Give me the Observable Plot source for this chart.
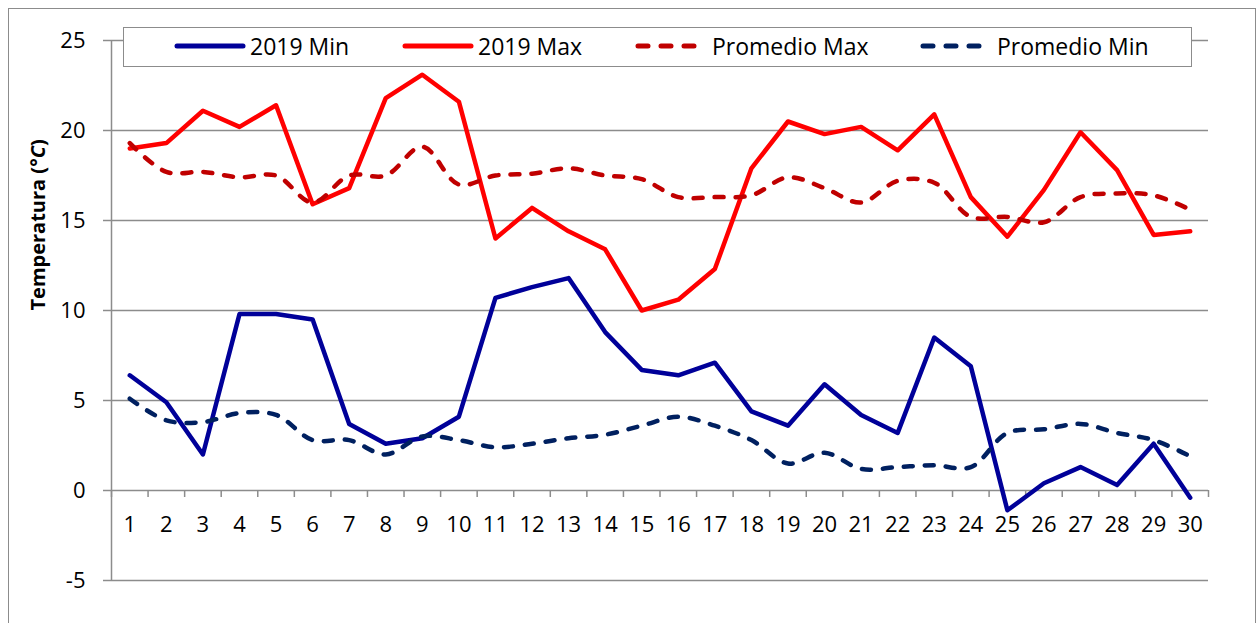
<!DOCTYPE html>
<html>
<head>
<meta charset="utf-8">
<script src="https://cdn.jsdelivr.net/npm/d3@7"></script>
<script src="https://cdn.jsdelivr.net/npm/@observablehq/plot@0.6"></script>
<style>
  html, body { margin: 0; padding: 0; background: #fff; }
  #wrap { position: relative; width: 1258px; height: 623px; overflow: hidden; font-family: "Open Sans", sans-serif; }
  #frame { position: absolute; left: 8px; top: 8px; width: 1248px; height: 700px; border: 1.5px solid #8c8c8c; box-sizing: border-box; }
  #chart { position: absolute; left: 0; top: 0; }
  #legend { position: absolute; left: 123px; top: 27px; width: 1069px; height: 40px; border: 1.5px solid #8c8c8c; box-sizing: border-box; background: #fff; }
  .item { position: absolute; top: -1px; height: 37px; display: flex; align-items: center; font-size: 23px; color: #000; white-space: nowrap; }
</style>
</head>
<body>
<div id="wrap">
  <div id="frame"></div>
  <div id="chart"></div>
  <div id="legend"></div>
</div>
<script>
// ---- data ----
const days = [1,2,3,4,5,6,7,8,9,10,11,12,13,14,15,16,17,18,19,20,21,22,23,24,25,26,27,28,29,30];
const min2019 = [6.4,4.9,2.0,9.8,9.8,9.5,3.7,2.6,2.9,4.1,10.7,11.3,11.8,8.8,6.7,6.4,7.1,4.4,3.6,5.9,4.2,3.2,8.5,6.9,-1.1,0.4,1.3,0.3,2.6,-0.4];
const max2019 = [19.0,19.3,21.1,20.2,21.4,15.9,16.8,21.8,23.1,21.6,14.0,15.7,14.4,13.4,10.0,10.6,12.3,17.9,20.5,19.8,20.2,18.9,20.9,16.3,14.1,16.7,19.9,17.8,14.2,14.4];
const promMax = [19.3,17.7,17.7,17.4,17.5,16.0,17.5,17.5,19.1,17.0,17.5,17.6,17.9,17.5,17.3,16.3,16.3,16.4,17.4,16.8,16.0,17.2,17.1,15.2,15.2,14.9,16.3,16.5,16.4,15.6];
const promMin = [5.1,3.9,3.8,4.3,4.2,2.8,2.8,2.0,3.0,2.8,2.4,2.6,2.9,3.1,3.6,4.1,3.6,2.8,1.5,2.1,1.2,1.3,1.4,1.3,3.2,3.4,3.7,3.2,2.8,1.9];
const yTicks = [-5,0,5,10,15,20,25];
const seriesNames = ["2019 Min","2019 Max","Promedio Max","Promedio Min"];
const yLabel = "Temperatura (°C)";

const colors = {"2019 Min":"#000099","2019 Max":"#FF0000","Promedio Max":"#C00000","Promedio Min":"#002060"};
const dashed = {"2019 Min":false,"2019 Max":false,"Promedio Max":true,"Promedio Min":true};
const valuesBy = {"2019 Min":min2019,"2019 Max":max2019,"Promedio Max":promMax,"Promedio Min":promMin};

const rows = [];
for (const s of seriesNames) days.forEach((d,i) => rows.push({series:s, day:d, value:valuesBy[s][i]}));
const boundaries = days.map(d => d - 0.5).concat([days[days.length-1] + 0.5]);
const grid = "#8c8c8c";

const lineMarks = seriesNames.map(s => Plot.line(rows.filter(r => r.series === s), {
  x: "day", y: "value",
  stroke: colors[s], strokeWidth: 4.5,
  strokeLinejoin: "round", strokeLinecap: "round",
  strokeDasharray: dashed[s] ? "9,12" : null,
  curve: dashed[s] ? "catmull-rom" : "linear"
}));

const chart = Plot.plot({
  width: 1258, height: 623,
  marginLeft: 111, marginRight: 50, marginTop: 40, marginBottom: 43,
  x: {domain: [boundaries[0], boundaries[boundaries.length-1]], axis: null},
  y: {domain: [yTicks[0], yTicks[yTicks.length-1]]},
  style: {fontFamily: "Open Sans", fontSize: "22px", background: "transparent", overflow: "visible"},
  marks: [
    Plot.ruleY(yTicks, {stroke: grid, strokeWidth: 1.5}),
    Plot.ruleX([boundaries[0]], {stroke: grid, strokeWidth: 1.5}),
    Plot.axisY(yTicks, {anchor: "left", tickSize: 8, tickPadding: 18, stroke: grid, strokeWidth: 1.5, fill: "#000", fontSize: 22, label: null, tickFormat: d => String(d).replace("−","-")}),
    Plot.ruleX(boundaries, {x: d => d, y1: () => 0, y2: () => 0, insetBottom: -7, stroke: grid, strokeWidth: 1.5}),
    Plot.text(days, {x: d => d, y: () => 0, dy: 34, text: d => String(d), fill: "#000", fontSize: 22}),
    Plot.text([yLabel], {frameAnchor: "left", rotate: -90, dx: -73, text: d => d, fontWeight: "bold", fontSize: 20, fill: "#000"}),
    ...lineMarks
  ]
});
document.getElementById("chart").appendChild(chart);

// italic C in axis title
chart.querySelectorAll("text").forEach(t => {
  if (t.textContent === yLabel) {
    t.innerHTML = 'Temperatura (°<tspan font-style="italic">C</tspan>)';
  }
});

// legend
const legend = document.getElementById("legend");
const legendX = {"2019 Min":50,"2019 Max":278,"Promedio Max":511,"Promedio Min":796};
for (const s of seriesNames) {
  const it = document.createElement("div");
  it.className = "item";
  it.style.left = legendX[s] + "px";
  const w = dashed[s] ? 64 : 72;
  const gap = dashed[s] ? 13 : 4;
  it.innerHTML = `<svg width="${w}" height="10" style="margin-right:${gap}px"><line x1="3" y1="5" x2="${w-3}" y2="5" stroke="${colors[s]}" stroke-width="5" stroke-linecap="round" ${dashed[s] ? 'stroke-dasharray="10,13"' : ''}/></svg><span>${s}</span>`;
  legend.appendChild(it);
}
</script>
</body>
</html>
